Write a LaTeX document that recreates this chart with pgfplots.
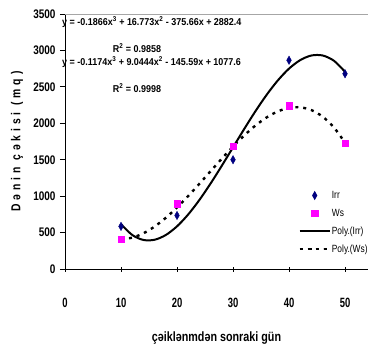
\documentclass[border=0pt]{standalone}
\usepackage{fontspec}
\setmainfont{Liberation Sans}
\newfontfamily\nf{Liberation Sans}[FakeStretch=0.8]
\newfontfamily\nfe{Liberation Sans}[FakeStretch=0.9]
\newfontfamily\nfx{Liberation Sans}[FakeStretch=0.7]
\newfontfamily\nfl{Liberation Sans}[FakeStretch=0.8, LetterSpace=30]
\usepackage{pgfplots}
\pgfplotsset{compat=1.18}
\definecolor{irr}{RGB}{0,0,128}
\definecolor{ws}{RGB}{255,0,255}
\begin{document}
\begin{tikzpicture}[x=1bp,y=1bp]
\begin{axis}[
  name=ax,
  scale only axis,
  width=303bp, height=255bp,
  xmin=0, xmax=54.1, ymin=0, ymax=3500,
  axis x line=bottom, axis y line=left,
  axis line style={-, black, line width=1bp},
  xtick={0,10,20,30,40,50},
  ytick={0,500,1000,1500,2000,2500,3000,3500},
  x tick style={black, line width=1bp},
  y tick style={black, line width=1bp},
  major tick length=5bp,
  xtick align=center,
  ytick align=outside,
  /pgf/number format/assume math mode=true,
  /pgf/number format/set thousands separator={},
  xticklabel style={font=\nfx\bfseries\fontsize{13.5}{13.5}\selectfont, yshift=-23bp},
  yticklabel style={font=\nf\bfseries\fontsize{12.5}{12.5}\selectfont, xshift=-1bp},
  clip=false,
  xlabel={çəiklənmdən sonraki gün},
  ylabel={Dənin çəkisi (mq)},
  every axis x label/.style={at={(axis description cs:0.5,0)}, anchor=center, yshift=-69bp, font=\nf\bfseries\fontsize{13.5}{13.5}\selectfont},
  every axis y label/.style={at={(axis description cs:0,0.5)}, anchor=center, xshift=-48bp, rotate=90, font=\nfl\bfseries\fontsize{13}{13}\selectfont},
  legend style={at={(axis description cs:0.77,0.31)}, anchor=north west, draw=none, fill=none,
    font=\nf\fontsize{10.5}{10.5}\selectfont, row sep=7bp, inner sep=0pt, nodes={inner sep=1bp}},
  legend cell align=left,
  legend image code/.code={\draw[mark repeat=2,mark phase=2] plot coordinates {(0bp,0bp) (15bp,0bp) (30bp,0bp)};},
]
\draw[gray!70, line width=1bp] (rel axis cs:0,1) -- (rel axis cs:1,1);
\addplot[only marks, mark=diamond*, mark size=4.2bp, color=irr, mark options={xscale=0.75}]
  coordinates {(10,585) (20,735) (30,1500) (40,2865) (50,2680)};
\addlegendentry{Irr}
\addplot[only marks, mark=square*, mark size=3.2bp, color=ws]
  coordinates {(10,405) (20,895) (30,1685) (40,2240) (50,1725)};
\addlegendentry{Ws}
\addplot[black, line width=2bp, smooth, no markers]
  coordinates {(10,616.5) (12,467.4) (14,398.6) (16,401.4) (18,466.7) (20,585.6) (22,749.1) (24,948.3) (26,1174.1) (28,1417.7) (30,1670.1) (32,1922.3) (34,2165.4) (36,2390.4) (38,2588.4) (40,2750.4) (42,2867.4) (44,2930.6) (46,2930.8) (48,2859.2) (50,2706.9)};
\addlegendentry{Poly.(Irr)}
\addplot[black, line width=2.4bp, dash pattern=on 3bp off 5bp, smooth, no markers]
  coordinates {(10,408.7) (12,430.0) (14,489.9) (16,582.7) (18,702.7) (20,844.4) (22,1002.0) (24,1170.1) (26,1342.9) (28,1514.7) (30,1680.1) (32,1833.2) (34,1968.6) (36,2080.5) (38,2163.3) (40,2211.4) (42,2219.2) (44,2181.0) (46,2091.2) (48,1944.1) (50,1734.1)};
\addlegendentry{Poly.(Ws)}
\end{axis}
\begin{scope}[font=\nfe\bfseries\fontsize{10}{10}\selectfont]
\node[anchor=west, inner sep=0pt] at ([shift={(-3bp,247bp)}]ax.south west) {y = -0.1866x\textsuperscript{3} + 16.773x\textsuperscript{2} - 375.66x + 2882.4};
\node[anchor=center, inner sep=0pt] at ([shift={(72bp,221bp)}]ax.south west) {R\textsuperscript{2} = 0.9858};
\node[anchor=west, inner sep=0pt] at ([shift={(-3bp,207bp)}]ax.south west) {y = -0.1174x\textsuperscript{3} + 9.0444x\textsuperscript{2} - 145.59x + 1077.6};
\node[anchor=center, inner sep=0pt] at ([shift={(72bp,181bp)}]ax.south west) {R\textsuperscript{2} = 0.9998};
\end{scope}
\pgfresetboundingbox
\path[use as bounding box] ([shift={(-65bp,-75bp)}]ax.south west) rectangle ([shift={(0bp,14bp)}]ax.north east);
\end{tikzpicture}
\end{document}
